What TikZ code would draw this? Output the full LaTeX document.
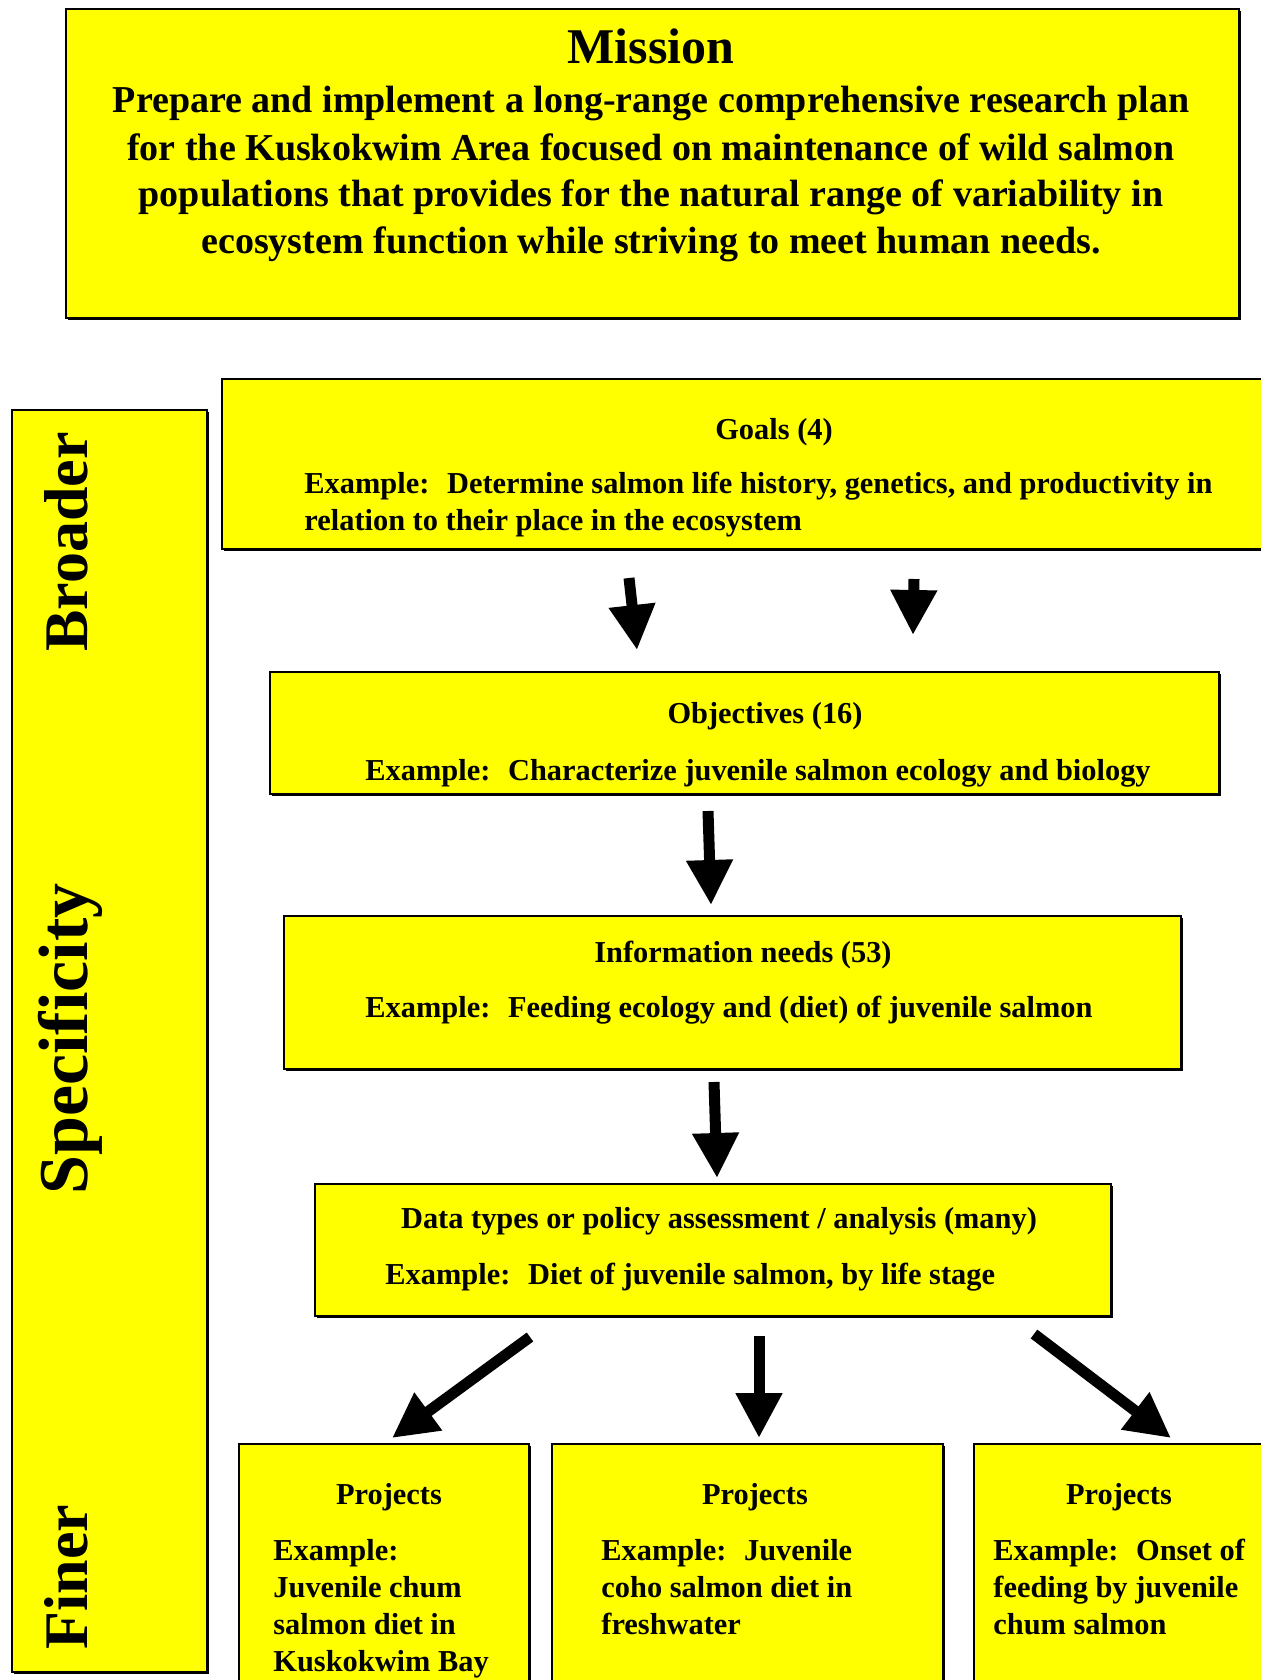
\documentclass[tikz,border=0pt]{standalone}
\usepackage{fontspec}
\setmainfont{Liberation Serif}
\usepackage{tikz}
\usetikzlibrary{arrows.meta,shadows}
\definecolor{boxFill}{HTML}{FFFF00}

\begin{document}
\begin{tikzpicture}[x=0.5pt,y=-0.5pt,
box/.style={draw=black,line width=0.9pt,fill=boxFill,inner sep=0,
    general shadow={fill=black,shadow xshift=1pt,shadow yshift=-1pt}},
missionTitle/.style={font=\bfseries\fontsize{25}{30}\selectfont,anchor=base,inner sep=0},
missionText/.style={font=\bfseries\fontsize{19}{23.5}\selectfont,align=center,anchor=base,inner sep=0},
levelTitle/.style={font=\bfseries\fontsize{15.2}{18.5}\selectfont,anchor=base,inner sep=0},
levelText/.style={font=\bfseries\fontsize{15.2}{18.5}\selectfont,align=left,anchor=base west,inner sep=0},
sideLabel/.style={font=\bfseries\fontsize{31}{36}\selectfont,rotate=90,inner sep=0},
fatArrow/.style={line width=5.5pt,-{Triangle[length=22.5pt,width=22pt]}}
]
\useasboundingbox (0,0) rectangle (1261,1680);
% boxes
\node[box,minimum width=586.5pt,minimum height=154.5pt] (mission) at (652.5,163.5) {};
\node[box,minimum width=97.5pt,minimum height=631pt] (scale) at (109.5,1041) {};
\node[box,minimum width=529pt,minimum height=85pt] (goals) at (751,464) {};
\node[box,minimum width=474.5pt,minimum height=61pt] (objectives) at (744.5,733) {};
\node[box,minimum width=448.5pt,minimum height=76.5pt] (needs) at (732.5,992.5) {};
\node[box,minimum width=398pt,minimum height=66pt] (data) at (713,1250) {};
\node[box,minimum width=145pt,minimum height=128pt] (proj1) at (384,1572) {};
\node[box,minimum width=195.5pt,minimum height=128pt] (proj2) at (747.5,1572) {};
\node[box,minimum width=153pt,minimum height=128pt] (proj3) at (1127,1572) {};
% mission text (base = last line)
\node[missionTitle] (missionHead) at (651,64) {Mission};
\node[missionText] (missionBody) at (651,254) {Prepare and implement a long-range comprehensive research plan\\
for the Kuskokwim Area focused on maintenance of wild salmon\\
populations that provides for the natural range of variability in\\
ecosystem function while striving to meet human needs.};
% side labels
\node[sideLabel] (broader) at (66,542) {Broader};
\node[sideLabel,font=\bfseries\fontsize{35}{40}\selectfont] (specificity) at (70,1039) {Specificity};
\node[sideLabel] (finer) at (66,1577) {Finer};
% level texts
\node[levelTitle] (goalsHead) at (774,439) {Goals (4)};
\node[levelText] (goalsEx) at (304,530) {Example:~ Determine salmon life history, genetics, and productivity in\\
relation to their place in the ecosystem};
\node[levelTitle] (objHead) at (765,723) {Objectives (16)};
\node[levelText] (objEx) at (365,780) {Example:~ Characterize juvenile salmon ecology and biology};
\node[levelTitle] (needsHead) at (743,962) {Information needs (53)};
\node[levelText] (needsEx) at (365,1017) {Example:~ Feeding ecology and (diet) of juvenile salmon};
\node[levelTitle] (dataHead) at (719,1228) {Data types or policy assessment / analysis (many)};
\node[levelText] (dataEx) at (385,1284) {Example:~ Diet of juvenile salmon, by life stage};
\node[levelTitle] (proj1Head) at (389,1504) {Projects};
\node[levelText] (proj1Ex) at (273,1671) {Example:\\Juvenile chum\\salmon diet in\\Kuskokwim Bay};
\node[levelTitle] (proj2Head) at (755,1504) {Projects};
\node[levelText] (proj2Ex) at (601,1634) {Example:~ Juvenile\\coho salmon diet in\\freshwater};
\node[levelTitle] (proj3Head) at (1119,1504) {Projects};
\node[levelText] (proj3Ex) at (993,1634) {Example:~ Onset of\\feeding by juvenile\\chum salmon};
% arrows
\coordinate (goalsOutA) at (629,578);
\coordinate (objInA) at (637,650);
\coordinate (goalsOutB) at (914,579);
\coordinate (objInB) at (913,635);
\coordinate (objOut) at (708,811);
\coordinate (needsIn) at (711,905);
\coordinate (needsOut) at (714,1082);
\coordinate (dataIn) at (717,1178);
\coordinate (dataOutA) at (530,1337);
\coordinate (proj1In) at (392,1438);
\coordinate (dataOutB) at (759,1336);
\coordinate (proj2In) at (759,1438);
\coordinate (dataOutC) at (1034,1334);
\coordinate (proj3In) at (1171,1438);
\draw[fatArrow] (goalsOutA) -- (objInA);
\draw[fatArrow] (goalsOutB) -- (objInB);
\draw[fatArrow] (objOut) -- (needsIn);
\draw[fatArrow] (needsOut) -- (dataIn);
\draw[fatArrow] (dataOutA) -- (proj1In);
\draw[fatArrow] (dataOutB) -- (proj2In);
\draw[fatArrow] (dataOutC) -- (proj3In);
\end{tikzpicture}
\end{document}
